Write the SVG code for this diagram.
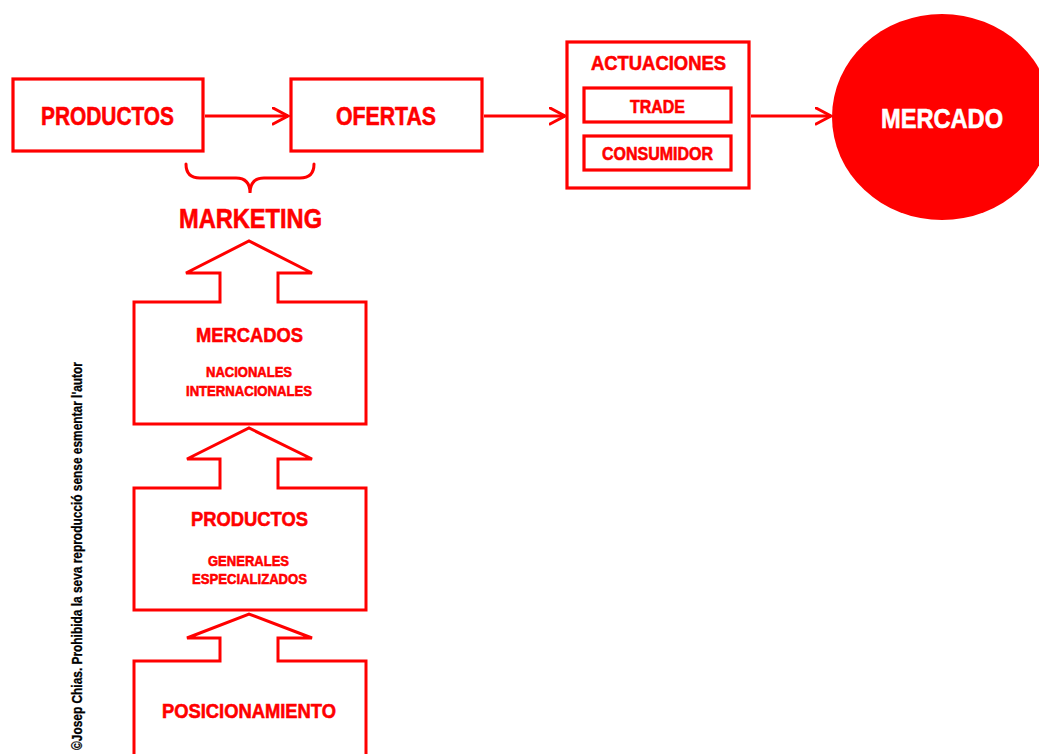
<svg xmlns="http://www.w3.org/2000/svg" width="1039" height="754" viewBox="0 0 1039 754">
<style>
.box{fill:#fff;stroke:#ff0000;stroke-width:3.2}
.shape{fill:#fff;stroke:#ff0000;stroke-width:3;stroke-linejoin:miter}
.t{font-family:"Liberation Sans",Arial,sans-serif;font-weight:bold;fill:#ff0000;stroke:#ff0000;stroke-width:0.6;text-anchor:middle}
.w{fill:#fff;stroke:#fff}
.conn{stroke:#ff0000;stroke-width:3;fill:none}
</style>
<defs>
<marker id="arr" markerUnits="userSpaceOnUse" markerWidth="20" markerHeight="20" refX="16" refY="9" orient="auto">
<path d="M1,1 L16,9 L1,17" fill="none" stroke="#ff0000" stroke-width="3" stroke-linecap="round" stroke-linejoin="miter"/>
</marker>
</defs>
<rect width="1039" height="754" fill="#fff"/>
<g id="connectors">
<line class="conn" x1="205" y1="116" x2="288" y2="116" marker-end="url(#arr)"/>
<line class="conn" x1="484" y1="116" x2="565" y2="116" marker-end="url(#arr)"/>
<line class="conn" x1="751" y1="116" x2="831" y2="116" marker-end="url(#arr)"/>
<path id="brace" class="conn" d="M186,164 q0,14 14,14 L236,178 q14,0 14,15 q0,-15 14,-15 L300,178 q14,0 14,-14" stroke-linecap="round"/>
</g>
<g id="productos-top">
<rect class="box" x="13" y="79" width="190" height="72"/>
<text class="t" x="107.5" y="125" font-size="25" textLength="133" lengthAdjust="spacingAndGlyphs">PRODUCTOS</text>
</g>
<g id="ofertas">
<rect class="box" x="291" y="79" width="191" height="72"/>
<text class="t" x="386" y="125" font-size="25" textLength="100" lengthAdjust="spacingAndGlyphs">OFERTAS</text>
</g>
<g id="actuaciones">
<rect class="box" x="567" y="42" width="182" height="146"/>
<text class="t" x="658.5" y="70" font-size="21" textLength="135" lengthAdjust="spacingAndGlyphs">ACTUACIONES</text>
<g id="trade">
<rect class="box" x="584" y="88" width="147" height="34"/>
<text class="t" x="657.5" y="113" font-size="18" textLength="55" lengthAdjust="spacingAndGlyphs">TRADE</text>
</g>
<g id="consumidor">
<rect class="box" x="584" y="136" width="147" height="34"/>
<text class="t" x="657.5" y="160" font-size="18" textLength="111" lengthAdjust="spacingAndGlyphs">CONSUMIDOR</text>
</g>
</g>
<g id="mercado">
<ellipse cx="942" cy="117" rx="110" ry="103" fill="#ff0000"/>
<text class="t w" x="942" y="128" font-size="28" textLength="122" lengthAdjust="spacingAndGlyphs">MERCADO</text>
</g>
<g id="marketing">
<text class="t" x="250.5" y="228" font-size="28" textLength="143" lengthAdjust="spacingAndGlyphs">MARKETING</text>
</g>
<g id="mercados">
<path class="shape" d="M134,424 L134,302 L220,302 L220,273 L186,273 L249,241 L312,273 L278,273 L278,302 L366,302 L366,424 Z"/>
<text class="t" x="249.5" y="342" font-size="21" textLength="107" lengthAdjust="spacingAndGlyphs">MERCADOS</text>
<text class="t" x="249" y="377" font-size="15" textLength="86" lengthAdjust="spacingAndGlyphs">NACIONALES</text>
<text class="t" x="249" y="396" font-size="15" textLength="126" lengthAdjust="spacingAndGlyphs">INTERNACIONALES</text>
</g>
<g id="productos">
<path class="shape" d="M134,610 L134,488 L220,488 L220,459 L187,459 L249,428 L312,459 L278,459 L278,488 L366,488 L366,610 Z"/>
<text class="t" x="249.5" y="526" font-size="21" textLength="117" lengthAdjust="spacingAndGlyphs">PRODUCTOS</text>
<text class="t" x="248.5" y="566" font-size="15" textLength="81" lengthAdjust="spacingAndGlyphs">GENERALES</text>
<text class="t" x="249.5" y="584" font-size="15" textLength="115" lengthAdjust="spacingAndGlyphs">ESPECIALIZADOS</text>
</g>
<g id="posicionamiento">
<path class="shape" d="M134,760 L134,661 L220,661 L220,638 L187,638 L249,614 L312,638 L278,638 L278,661 L366,661 L366,760"/>
<text class="t" x="249" y="718" font-size="21" textLength="174" lengthAdjust="spacingAndGlyphs">POSICIONAMIENTO</text>
</g>
<g id="copyright">
<text transform="translate(82,750) rotate(-90)" x="0" y="0" font-family="Liberation Sans, Arial, sans-serif" font-weight="bold" font-size="14" fill="#000" stroke="#000" stroke-width="0.3" textLength="388" lengthAdjust="spacingAndGlyphs">©Josep Chias. Prohibida la seva reproducció sense esmentar l'autor</text>
</g>
</svg>
